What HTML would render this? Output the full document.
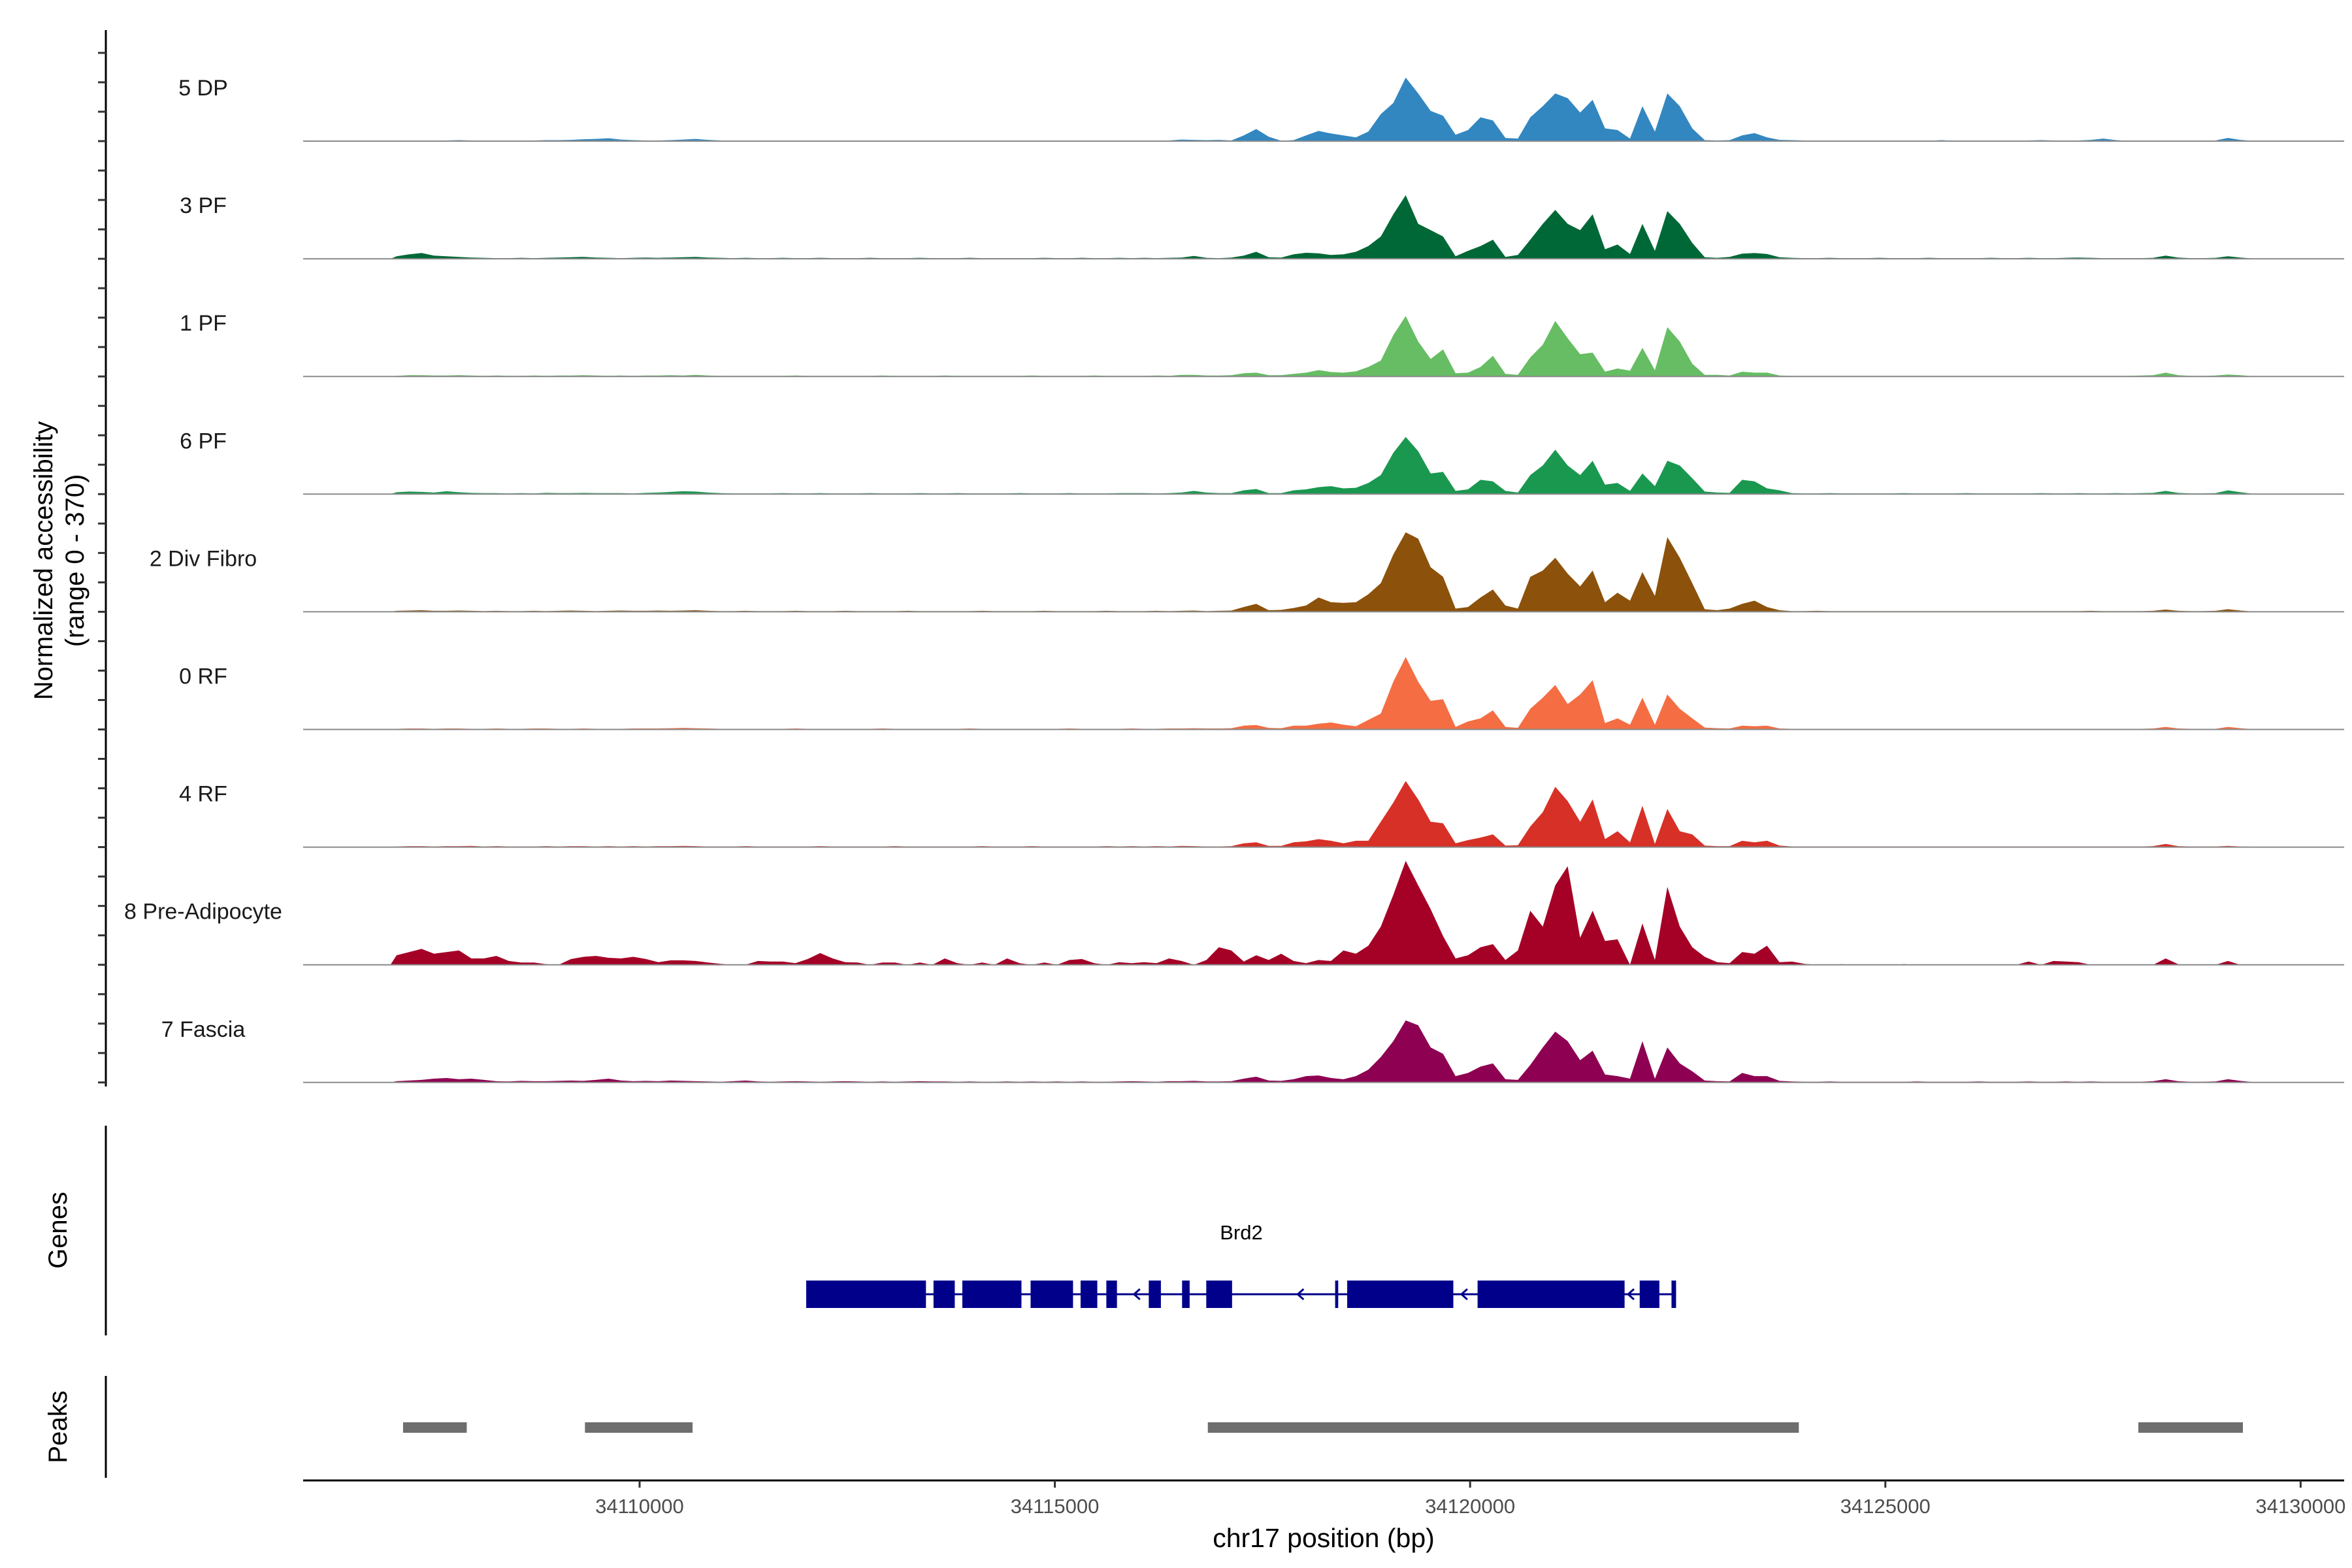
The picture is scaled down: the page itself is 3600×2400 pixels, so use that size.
<!DOCTYPE html>
<html><head><meta charset="utf-8"><style>
html,body{margin:0;padding:0;background:#fff;}
svg{display:block;font-family:"Liberation Sans",Arial,sans-serif;}
</style></head><body>
<svg id="chart" width="3600" height="2400" viewBox="0 0 3600 2400" xmlns="http://www.w3.org/2000/svg">
<rect x="0" y="0" width="3600" height="2400" fill="#fff"/>
<g id="tracks"></g>
<g id="axes"></g>
<g id="genes"></g>
<g id="peaks"></g>
</svg>
<script>
const trackNames = ["5 DP","3 PF","1 PF","6 PF","2 Div Fibro","0 RF","4 RF","8 Pre-Adipocyte","7 Fascia"];
const trackColors = ["#3387c0","#006837","#66bd63","#1a9850","#8c510a","#f46d43","#d73027","#a50026","#8e0152"];
const binStart = 34107000;
const binSize = 150;
const yMax = 370;
const s5DP = [1,2,2,1,2,3,2,1,2,2, 2,2,3,3,4,6,7,9,5,3, 2,2,3,5,7,4,2,1,2,1, 1,2,1,1,2,1,1,1,2,1, 1,1,2,1,1,1,1,2,1,1, 1,1,2,1,1,2,1,1,2,1,
 1,2,2,5,4,3,4,2,18,38, 14,1,3,18,32,24,18,12,30,85, 120,200,150,95,80,20,35,75,65,10, 8,75,110,150,135,90,130,40,35,8,
 110,30,150,110,40,3,2,3,18,25, 12,4,3,2,2,1,2,1,1,2, 1,2,1,1,3,1,1,2,1,1, 1,2,3,2,1,2,4,8,3,1, 1,2,2,1,2,1,2,10,4,1];
const s3PF = [8,14,18,10,8,6,4,3,2,2, 3,2,3,4,5,6,4,3,2,3, 4,3,4,5,6,4,3,2,3,2, 2,3,2,2,3,2,2,2,3,2, 2,2,3,2,2,2,3,2,2,2, 2,2,3,2,2,3,2,2,3,2,
 3,2,3,4,9,3,2,4,10,22, 5,4,14,19,17,12,14,22,40,70, 140,200,110,90,70,8,25,40,60,6, 12,60,110,154,110,90,140,30,45,15,
 110,25,150,110,50,5,3,6,16,18, 15,5,3,2,2,3,2,2,2,3, 2,2,2,3,2,2,2,2,3,2, 2,3,2,2,3,4,3,2,2,2, 2,3,10,4,2,2,3,8,4,1];
const s1PF = [2,4,4,3,3,4,3,2,3,2, 2,3,2,3,3,4,3,2,3,2, 3,3,4,3,5,3,2,2,2,2, 2,2,3,2,2,2,2,2,2,3, 2,2,2,2,3,2,2,2,2,2, 2,3,2,2,2,2,3,2,2,2,
 2,3,2,5,5,3,3,4,10,12, 4,4,8,12,20,14,12,16,30,50, 130,190,110,55,85,10,12,30,65,8, 5,60,100,175,120,70,75,15,25,18,
 90,20,155,110,40,5,5,3,15,12, 12,3,2,2,2,2,2,2,2,2, 2,2,2,2,2,2,2,2,2,2, 2,2,2,2,2,2,2,2,2,2, 3,4,12,4,2,2,3,6,4,1];
const s6PF = [6,8,7,5,9,6,4,3,3,2, 3,2,4,3,3,4,3,3,3,2, 4,5,7,9,8,5,3,2,2,2, 2,3,2,2,3,2,2,2,3,2, 2,2,3,2,2,3,2,2,2,2, 3,2,2,2,3,2,2,2,3,3,
 3,2,3,5,10,5,3,3,12,16, 3,3,12,15,22,25,18,20,35,60, 130,180,135,65,70,10,15,45,40,10, 5,60,90,140,90,60,105,30,35,10,
 65,25,105,90,50,8,5,4,45,40, 18,12,3,2,2,3,2,2,2,2, 2,3,2,2,2,2,3,2,2,2, 2,2,3,2,2,3,2,2,3,2, 3,4,10,4,2,2,3,12,6,1];
const sDivFibro = [3,4,5,3,3,4,3,2,3,2, 2,3,2,3,4,3,2,3,4,3, 3,4,3,4,5,3,2,2,3,2, 2,2,3,2,2,2,3,2,2,2, 2,3,2,2,2,2,2,3,2,2, 2,2,3,2,2,2,2,3,2,2,
 2,3,2,3,4,2,3,4,15,25, 5,6,12,20,45,30,28,30,55,90, 180,250,230,140,110,10,15,45,70,20, 10,110,130,170,120,80,130,30,60,35,
 125,50,235,170,90,8,5,10,25,35, 15,5,2,2,3,2,2,2,2,2, 2,2,2,2,2,2,2,2,2,2, 2,2,2,2,2,2,3,2,2,2, 2,3,7,3,2,2,3,8,4,1];
const s0RF = [2,3,3,2,3,3,2,2,3,2, 2,3,3,2,2,3,2,2,2,3, 3,3,4,5,4,3,2,2,2,2, 2,2,3,2,2,2,2,2,2,3, 2,2,2,2,2,2,3,2,2,2, 2,2,2,2,3,2,2,2,2,3,
 2,2,3,3,4,3,3,4,12,14, 5,4,12,12,18,22,15,10,30,50, 150,228,150,90,95,8,25,35,60,8, 5,65,100,140,80,110,155,20,35,15,
 100,15,110,65,35,6,4,3,12,10, 12,3,2,2,2,2,2,2,2,2, 2,2,2,2,2,2,2,2,2,2, 2,2,2,2,2,2,2,2,2,2, 2,3,8,3,2,2,2,8,4,1];
const s4RF = [2,3,3,2,3,3,4,2,3,2, 2,2,3,2,3,3,2,3,2,3, 2,3,3,4,3,2,2,2,3,2, 2,2,2,2,3,2,2,2,2,2, 3,2,2,2,2,2,2,3,2,2, 2,3,2,2,2,2,2,3,2,3,
 2,3,2,4,3,2,2,3,12,15, 4,4,15,18,25,20,12,20,20,80, 140,208,150,80,75,12,22,30,40,5, 6,65,110,190,145,80,150,25,50,15,
 130,10,120,50,40,5,3,3,20,15, 20,5,2,2,2,2,2,2,2,2, 2,2,2,2,2,2,2,2,2,2, 2,2,2,2,2,2,2,2,2,2, 2,3,10,3,2,2,2,4,2,1];
const sPreAdipo = [30,40,50,35,40,45,20,20,28,12, 7,7,2,0,18,25,28,22,20,25, 18,8,14,14,12,7,3,0,0,12, 10,10,5,18,37,20,8,7,0,7, 7,0,7,0,20,5,0,7,0,20, 5,0,7,0,15,18,5,0,8,5,
 8,5,20,12,0,15,55,45,10,30, 15,35,12,5,15,12,45,35,60,120, 220,327,250,175,90,20,30,55,65,15, 45,170,120,250,310,85,170,75,80,0,
 130,15,245,120,55,25,8,5,40,35, 60,8,10,3,0,0,2,0,0,0, 0,2,0,0,0,0,0,0,0,0, 0,10,0,12,10,8,0,0,0,0, 0,0,20,2,0,0,0,12,0,0];
const sFascia = [4,6,8,12,14,10,12,8,4,3, 5,4,4,5,6,5,8,12,6,4, 5,4,6,5,4,3,2,4,6,3, 2,3,4,3,2,3,4,3,2,3, 2,3,4,3,3,2,3,2,2,3, 2,3,2,3,2,3,2,2,3,4,
 3,2,4,4,5,3,3,4,12,18, 6,5,10,20,22,14,10,20,40,80, 130,195,180,110,90,20,30,50,60,10, 8,55,110,160,130,70,100,25,20,12,
 130,12,110,60,35,6,4,3,30,20, 20,5,3,2,2,3,2,2,2,2, 2,2,3,2,2,2,2,3,2,2, 2,3,2,2,3,2,3,2,2,2, 2,4,10,4,2,2,3,10,5,1];
const seriesValues = [s5DP,s3PF,s1PF,s6PF,sDivFibro,s0RF,s4RF,sPreAdipo,sFascia];
const xTicks = [34110000,34115000,34120000,34125000,34130000];
const xTickLabels = ["34110000","34115000","34120000","34125000","34130000"];
const geneName = "Brd2";
const geneStart = 34112006, geneEnd = 34122480;
const exonStarts = [34112006,34113539,34113886,34114708,34115310,34115620,34116131,34116532,34116823,34118375,34118520,34120090,34122042,34122425];
const exonEnds   = [34113448,34113795,34114598,34115219,34115511,34115748,34116277,34116623,34117134,34118412,34119798,34121860,34122279,34122480];
const strandArrows = [34115985,34117956,34119927,34121934];
const peakStarts = [34107152,34109342,34116842,34128046];
const peakEnds   = [34107919,34110638,34123958,34129305];

const NS = "http://www.w3.org/2000/svg";
const X0 = 464, X1 = 3588, BP0 = 34105949, PXBP = 0.12712;
function xs(bp){ return X0 + (bp - BP0) * PXBP; }
const base0 = 216, trackStep = 180.1, trackH = 180;
function ys(k, v){ return base0 + trackStep*k - Math.min(v, yMax)/yMax*trackH; }
function mk(tag, attrs, parent){ const e=document.createElementNS(NS,tag); for(const k in attrs) e.setAttribute(k, attrs[k]); parent.appendChild(e); return e; }

const gT = document.getElementById('tracks');
for (let k=0;k<seriesValues.length;k++){
  const vals = seriesValues[k];
  const base = base0 + trackStep*k;
  let d = "M"+xs(binStart).toFixed(1)+","+base;
  for (let i=0;i<vals.length;i++){
    d += " L"+xs(binStart+binSize*i+binSize/2).toFixed(1)+","+ys(k, vals[i]).toFixed(1);
  }
  d += " L"+xs(binStart+binSize*vals.length).toFixed(1)+","+base+" Z";
  const p = mk('path',{d:d, fill:trackColors[k]}, gT);
  
  
  const bl = mk('line',{x1:X0,x2:X1,y1:base,y2:base,stroke:'#8a8a8a','stroke-width':2}, gT);
  
  
  const t = mk('text',{x:311,y:base-79,'font-size':34,'text-anchor':'middle','dominant-baseline':'middle',fill:'#1a1a1a'}, gT);
  t.textContent = trackNames[k];
  
  
}

const gA = document.getElementById('axes');
let e = mk('line',{x1:162,x2:162,y1:46,y2:1663,stroke:'#000','stroke-width':3}, gA);


for (let j=-3;j<=32;j++){
  const y = base0 + 45.025*j;
  const tk = mk('line',{x1:150,x2:162,y1:y,y2:y,stroke:'#333','stroke-width':3}, gA);
  
  
}
const yt = mk('text',{transform:'translate(80,858) rotate(-90)','font-size':40,'text-anchor':'middle',fill:'#000'}, gA);


yt.innerHTML = '<tspan x="0" dy="0">Normalized accessibility</tspan><tspan x="0" dy="48">(range 0 - 370)</tspan>';
e = mk('line',{x1:X0,x2:X1,y1:2266,y2:2266,stroke:'#000','stroke-width':3}, gA);


for (let i=0;i<xTicks.length;i++){
  const x = xs(xTicks[i]);
  const tk = mk('line',{x1:x,x2:x,y1:2266,y2:2277,stroke:'#333','stroke-width':3}, gA);
  
  
  const tl = mk('text',{x:x,y:2316,'font-size':31,'text-anchor':'middle',fill:'#4d4d4d'}, gA);
  tl.textContent = xTickLabels[i];
  
  
}
e = mk('text',{x:2026,y:2368,'font-size':41,'text-anchor':'middle',fill:'#000'}, gA);
e.textContent = "chr17 position (bp)";



const gG = document.getElementById('genes');
e = mk('line',{x1:162,x2:162,y1:1723,y2:2044,stroke:'#000','stroke-width':3}, gG);


e = mk('text',{transform:'translate(102,1883) rotate(-90)','font-size':40,'text-anchor':'middle',fill:'#000'}, gG);
e.textContent = "Genes";


e = mk('line',{x1:xs(geneStart),x2:xs(geneEnd),y1:1981,y2:1981,stroke:'#00008b','stroke-width':3}, gG);


for (let i=0;i<exonStarts.length;i++){
  const x=xs(exonStarts[i]), w=Math.max(3, xs(exonEnds[i])-x);
  const r = mk('rect',{x:x,y:1960,width:w,height:42,fill:'#00008b'}, gG);
  
  
}
for (let i=0;i<strandArrows.length;i++){
  const x = xs(strandArrows[i]);
  const a = mk('polyline',{points:(x+5)+','+(1973)+' '+(x-4)+',1981 '+(x+5)+',1989',fill:'none',stroke:'#00008b','stroke-width':3}, gG);
  
  
}
e = mk('text',{x:1900,y:1897,'font-size':31,'text-anchor':'middle',fill:'#000'}, gG);
e.textContent = geneName;



const gP = document.getElementById('peaks');
e = mk('line',{x1:162,x2:162,y1:2106,y2:2262,stroke:'#000','stroke-width':3}, gP);


e = mk('text',{transform:'translate(102,2184) rotate(-90)','font-size':40,'text-anchor':'middle',fill:'#000'}, gP);
e.textContent = "Peaks";


for (let i=0;i<peakStarts.length;i++){
  const x=xs(peakStarts[i]);
  const r = mk('rect',{x:x,y:2177,width:xs(peakEnds[i])-x,height:16,fill:'#6e6e6e'}, gP);
  
  
}
</script>
</body></html>
